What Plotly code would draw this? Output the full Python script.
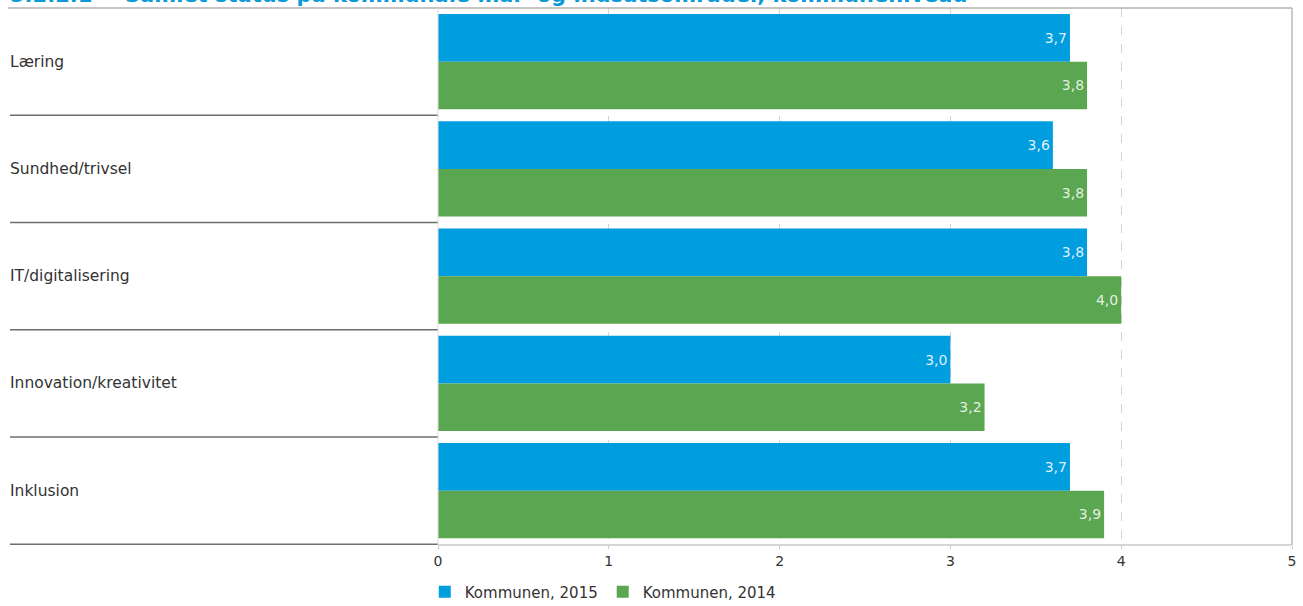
import plotly.graph_objects as go

categories = ["Læring", "Sundhed/trivsel", "IT/digitalisering", "Innovation/kreativitet", "Inklusion"]
series_2015 = [3.7, 3.6, 3.8, 3.0, 3.7]
series_2014 = [3.8, 3.8, 4.0, 3.2, 3.9]
labels_2015 = ["3,7", "3,6", "3,8", "3,0", "3,7"]
labels_2014 = ["3,8", "3,8", "4,0", "3,2", "3,9"]
series_names = ["Kommunen, 2015", "Kommunen, 2014"]
x_ticks = [0, 1, 2, 3, 4, 5]
title_number = "5.2.2.1"
title_text = "Samlet status på kommunale mål- og indsatsområder, kommuneniveau"

W, H = 1303, 606
L, R, T, B = 438, 11, 8, 61
pw = W - L - R
ph = H - T - B

BLUE = "#009ddf"
GREEN = "#5ba650"
FONT = "DejaVu Sans"

fig = go.Figure()
fig.add_trace(go.Bar(
    y=categories, x=series_2015, name=series_names[0], orientation="h",
    marker=dict(color=BLUE, line=dict(width=0)),
    text=labels_2015, textposition="inside", insidetextanchor="end",
    textfont=dict(color="rgba(255,255,255,0.88)", size=14, family=FONT),
    hoverinfo="skip",
))
fig.add_trace(go.Bar(
    y=categories, x=series_2014, name=series_names[1], orientation="h",
    marker=dict(color=GREEN, line=dict(width=0)),
    text=labels_2014, textposition="inside", insidetextanchor="end",
    textfont=dict(color="rgba(255,255,255,0.85)", size=14, family=FONT),
    hoverinfo="skip",
))

left_px = 8
xl = (left_px - L) / pw

annotations = []
for c in categories:
    annotations.append(dict(
        x=xl, xref="paper", y=c, yref="y", text=c, showarrow=False,
        xanchor="left", yanchor="middle",
        font=dict(family=FONT, size=15.5, color="#333333"),
    ))
title_y = 1 - 1 / ph
annotations.append(dict(
    x=(8 - L) / pw, xref="paper", y=title_y, yref="paper",
    text="<b>" + title_number + "</b>", showarrow=False,
    xanchor="left", yanchor="bottom",
    font=dict(family=FONT, size=21, color="#0a9ad8"),
))
annotations.append(dict(
    x=(123 - L) / pw, xref="paper", y=title_y, yref="paper",
    text="<b>" + title_text + "</b>", showarrow=False,
    xanchor="left", yanchor="bottom",
    font=dict(family=FONT, size=21, color="#0a9ad8"),
))

shapes = []
for i in range(len(categories)):
    shapes.append(dict(
        type="line", xref="paper", yref="y",
        x0=(10 - L) / pw, x1=0, y0=i + 0.5, y1=i + 0.5,
        line=dict(color="#6e6e6e", width=1.5),
    ))
shapes.append(dict(
    type="line", xref="paper", yref="paper",
    x0=(8 - L) / pw, x1=1, y0=1, y1=1,
    line=dict(color="#b0b0b0", width=1.5),
))
shapes.append(dict(
    type="line", xref="paper", yref="paper",
    x0=1, x1=1, y0=0, y1=1,
    line=dict(color="#b8b8b8", width=1.5),
))
shapes.append(dict(
    type="line", xref="paper", yref="paper",
    x0=0, x1=1, y0=0, y1=0,
    line=dict(color="#c8c8c8", width=1.5),
))
shapes.append(dict(
    type="line", xref="paper", yref="paper",
    x0=0, x1=0, y0=0, y1=1,
    line=dict(color="#dddddd", width=1),
))

fig.update_layout(
    width=W, height=H,
    margin=dict(l=L, r=R, t=T, b=B, autoexpand=False),
    paper_bgcolor="white", plot_bgcolor="white",
    barmode="group", bargap=0.11, bargroupgap=0,
    showlegend=True,
    legend=dict(
        orientation="h", x=-0.0155, xanchor="left",
        y=-(592 - (H - B)) / ph, yanchor="middle",
        font=dict(family=FONT, size=15, color="#333333"),
        traceorder="normal", itemwidth=30,
    ),
    xaxis=dict(
        range=[0, 5], tickvals=x_ticks, ticktext=[str(v) for v in x_ticks],
        showgrid=True, gridcolor="#d4d4d4", griddash="dash", gridwidth=1,
        zeroline=False, showline=False,
        ticks="outside", ticklen=3, tickcolor="#cccccc",
        tickfont=dict(family=FONT, size=14, color="#333333"),
        fixedrange=True,
    ),
    yaxis=dict(
        autorange="reversed", showticklabels=False, showgrid=False,
        zeroline=False, showline=False, ticks="", fixedrange=True,
    ),
    annotations=annotations,
    shapes=shapes,
)

fig.write_html(
    "out.html",
    config={"displayModeBar": False},
    post_script="document.body.style.margin='0';document.body.style.overflow='hidden';",
)
